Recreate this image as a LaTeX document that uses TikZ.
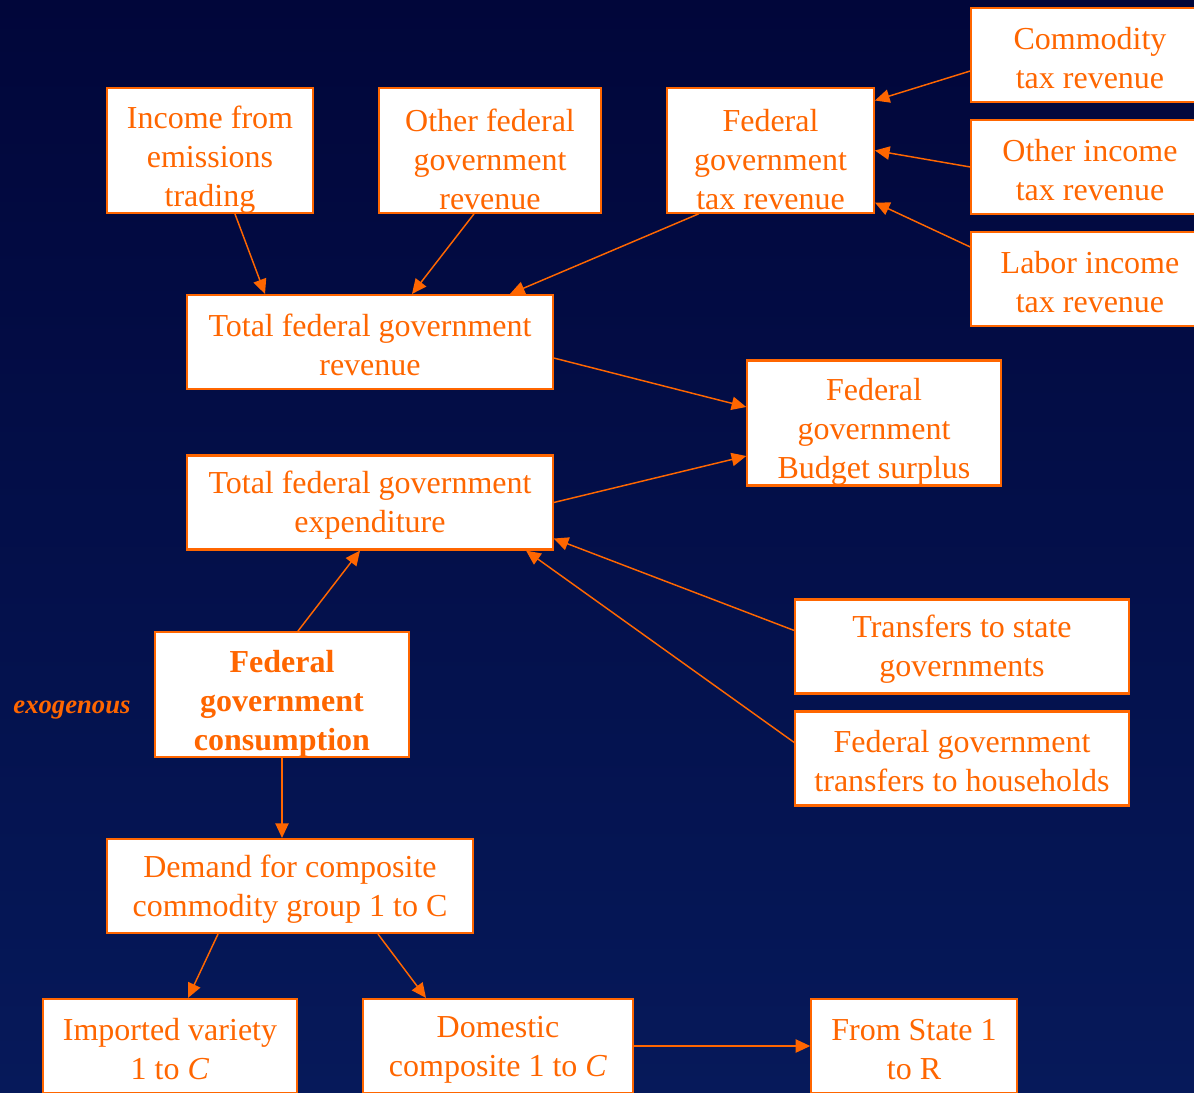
\documentclass[tikz,border=0pt]{standalone}
\usepackage{fontspec}
\setmainfont{Liberation Serif}
\usetikzlibrary{arrows.meta, calc}
\definecolor{slideorange}{HTML}{FF6600}
\definecolor{navytop}{HTML}{01063A}
\definecolor{navybottom}{HTML}{06195A}
% extra room above the first line, so the text sits a little low in its box
\newcommand{\tallpad}{\rule{0pt}{30pt}}
\newcommand{\shortpad}{\rule{0pt}{21pt}}

\begin{document}
\begin{tikzpicture}[x=0.75pt, y=-0.75pt,
    box/.style={draw=slideorange, line width=1.6pt, fill=white, text=slideorange,
        align=center, inner sep=0pt, font=\fontsize{24}{29.25}\selectfont},
    tall/.style={minimum height=93.5pt},
    short/.style={minimum height=70.5pt},
    link/.style={-{Triangle[length=11pt, width=10pt]}, draw=slideorange, line width=1.1pt}]

    \useasboundingbox (0, 0) rectangle (1194, 1092);
    \clip (0, 0) rectangle (1194, 1092);
    \shade[top color=navytop, bottom color=navybottom] (0, 0) rectangle (1194, 1092);

    % revenue side
    \node[box, tall, minimum width=154pt] at (210, 150.5) (inc) {\tallpad Income from\\emissions\\trading};
    \node[box, tall, minimum width=166pt] at (490, 150.5) (oth) {\tallpad Other federal\\government\\revenue};
    \node[box, tall, minimum width=155pt] at (770.5, 150.5) (ftax) {\tallpad Federal\\government\\tax revenue};
    \node[box, short, minimum width=178pt] at (1090, 55) (comm) {\shortpad Commodity\\tax revenue};
    \node[box, short, minimum width=178pt] at (1090, 167) (oinc) {\shortpad Other income\\tax revenue};
    \node[box, short, minimum width=178pt] at (1090, 279) (lab) {\shortpad Labor income\\tax revenue};
    \node[box, short, minimum width=274pt] at (370, 342) (rev) {\shortpad Total federal government\\revenue};
    \node[box, tall, minimum width=190pt] at (874, 423) (surp) {\tallpad Federal\\government\\Budget surplus};

    % expenditure side
    \node[box, short, minimum width=274pt] at (370, 502.5) (expd) {\shortpad Total federal government\\expenditure};
    \node[box, short, minimum width=250pt] at (962, 646.5) (tstate) {\shortpad Transfers to state\\governments};
    \node[box, short, minimum width=250pt] at (962, 758.5) (thh) {\shortpad Federal government\\transfers to households};
    \node[box, tall, minimum width=190pt, font=\fontsize{24}{29.25}\selectfont\bfseries] at (282, 694.5) (cons) {\tallpad Federal\\government\\consumption};
    \node[text=slideorange, font=\fontsize{20}{24}\selectfont\bfseries\itshape] at (72, 710) (exo) {exogenous};
    \node[box, short, minimum width=274pt] at (290, 886) (dem) {\shortpad Demand for composite\\commodity group 1 to C};
    \node[box, short, minimum width=190pt] at (170, 1046) (imp) {\shortpad Imported variety\\1 to \textit{C}};
    \node[box, short, minimum width=202pt] at (498, 1046) (dom) {\shortpad Domestic\\composite 1 to \textit{C}};
    \node[box, short, minimum width=154pt] at (914, 1046) (frm) {\shortpad From State 1\\to R};

    \draw[link] ($(inc.south)+(25, 0)$) -- ($(rev.north)+(-105, 0)$);
    \draw[link] ($(oth.south)+(-16, 0)$) -- ($(rev.north)+(42, 0)$);
    \draw[link] ($(ftax.south)+(-72, 0)$) -- ($(rev.north)+(140, 0)$);
    \draw[link] ($(comm.west)+(0, 16)$) -- ($(ftax.east)+(0, -50)$);
    \draw[link] (oinc.west) -- (ftax.east);
    \draw[link] ($(lab.west)+(0, -32)$) -- ($(ftax.east)+(0, 52)$);
    \draw[link] ($(rev.east)+(0, 16)$) -- ($(surp.west)+(0, -16)$);
    \draw[link] (expd.east) -- ($(surp.west)+(0, 33)$);
    \draw[link] ($(tstate.west)+(0, -16)$) -- ($(expd.east)+(0, 36)$);
    \draw[link] ($(thh.west)+(0, -16)$) -- ($(expd.south)+(156, 0)$);
    \draw[link] ($(cons.north)+(16, 0)$) -- ($(expd.south)+(-10, 0)$);
    \draw[link] (cons.south) -- (cons.south |- dem.north);
    \draw[link] ($(dem.south)+(-72, 0)$) -- ($(imp.north)+(18, 0)$);
    \draw[link] ($(dem.south)+(88, 0)$) -- ($(dom.north)+(-72, 0)$);
    \draw[link] (dom.east) -- (frm.west);
\end{tikzpicture}
\end{document}
